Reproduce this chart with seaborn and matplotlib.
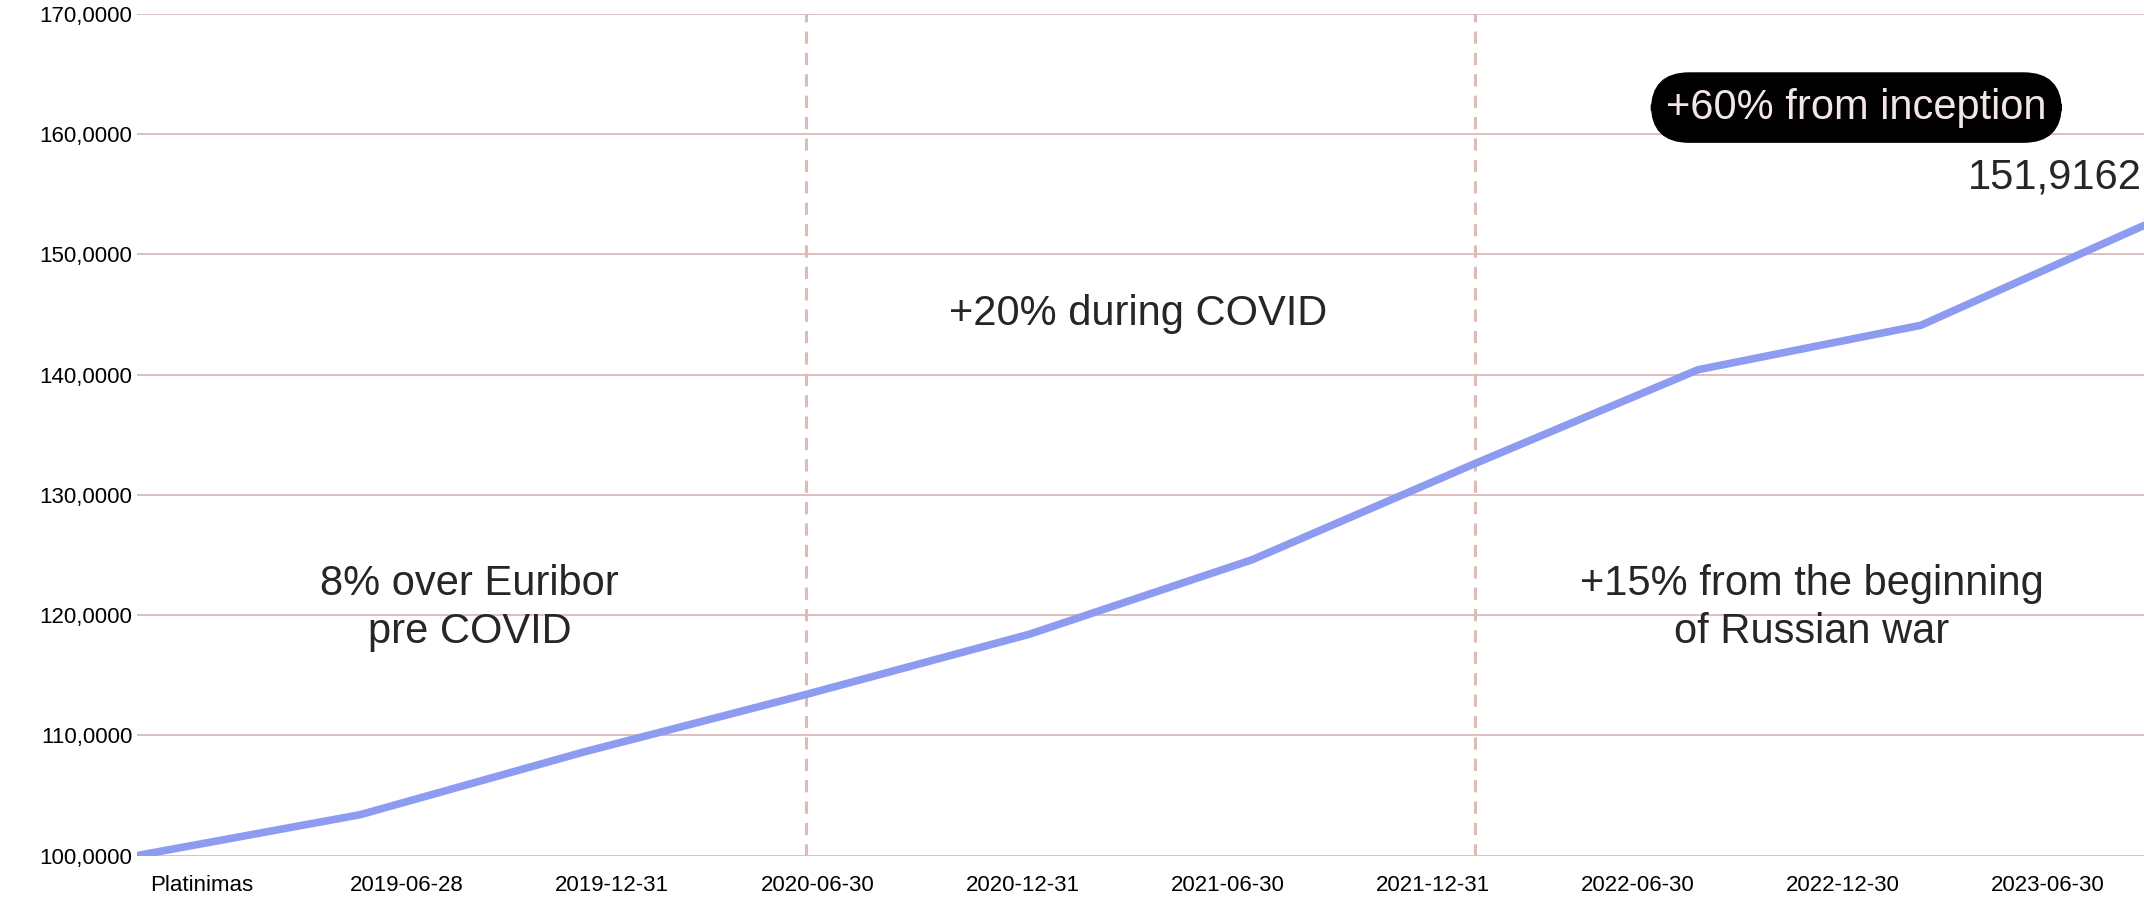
import numpy as np
import pandas as pd
import seaborn as sns
from matplotlib import pyplot as plt
from matplotlib.ticker import FuncFormatter

# values
dates = ['Platinimas', '2019-06-28', '2019-12-31', '2020-06-30', '2020-12-31',
         '2021-06-30', '2021-12-31', '2022-06-30', '2022-12-30', '2023-06-30']
values = [100.0, 103.4, 108.6, 113.4, 118.4, 124.6, 132.6, 140.4, 144.1, 152.4]
last_value_label = '151,9162'
phase_lines = [3, 6]

sns.set_theme(style='white')
plt.rcParams['font.family'] = ['Liberation Sans', 'DejaVu Sans']

df = pd.DataFrame({'pos': np.arange(len(values)), 'value': values})

fig = plt.figure(figsize=(21.44, 9.18), dpi=100)
ax = fig.add_axes([0.064, 0.068, 0.936, 0.917])

for y in range(100, 171, 10):
    ax.axhline(y, color='#d8b4b4', lw=1.2, zorder=0)
for x in phase_lines:
    ax.axvline(x, color='#dcbcb4', lw=2.2, ls=(0, (4, 3)), zorder=1)

sns.lineplot(data=df, x='pos', y='value', ax=ax, color='#8d9cf0', lw=5.5, zorder=3)

ax.set_xlim(0, 9)
ax.set_ylim(100, 170)
ax.set_yticks(range(100, 171, 10))
ax.yaxis.set_major_formatter(FuncFormatter(lambda v, p: f'{v:.4f}'.replace('.', ',')))
ax.set_xticks([0.29 + 0.92 * i for i in range(len(dates))])
ax.set_xticklabels(dates)
ax.tick_params(axis='both', labelsize=16, length=0, colors='black')
ax.tick_params(axis='x', pad=14)
ax.set_xlabel('')
ax.set_ylabel('')
sns.despine(ax=ax, left=True, bottom=True)

ax.text(1.49, 120.6, '8% over Euribor\npre COVID', ha='center', va='center',
        fontsize=30, linespacing=1.25)
ax.text(4.49, 145, '+20% during COVID', ha='center', va='center', fontsize=30)
ax.text(7.51, 120.6, '+15% from the beginning\nof Russian war', ha='center',
        va='center', fontsize=30, linespacing=1.25)
ax.text(7.71, 162.2, '+60% from inception', ha='center', va='center', fontsize=30,
        color='#f3e6e6',
        bbox=dict(boxstyle='round,pad=0.35,rounding_size=0.9', fc='black', ec='black'))
ax.text(8.99, 156.4, last_value_label, ha='right', va='center', fontsize=30)

plt.savefig('out.png', dpi=100, facecolor='white')
